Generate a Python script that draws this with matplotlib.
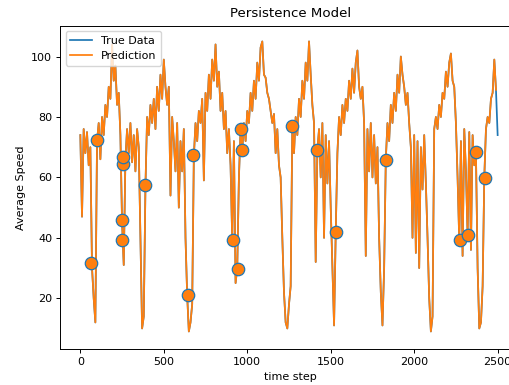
import numpy as np
import matplotlib
matplotlib.use('Agg')
import matplotlib.pyplot as plt

# the reference looks like a default 640x480 figure shrunk to ~80%
plt.rcParams['font.size'] = 8
plt.rcParams['axes.titlesize'] = 9.6
plt.rcParams['lines.linewidth'] = 1.25
plt.rcParams['axes.linewidth'] = 0.7
for ax_name in ['xtick', 'ytick']:
    plt.rcParams[ax_name + '.major.size'] = 2.8
    plt.rcParams[ax_name + '.major.width'] = 0.7
    plt.rcParams[ax_name + '.major.pad'] = 2.8

# average speed, one value every 10 time steps
step = 10
speed = [74, 47, 76, 68, 75, 64, 70, 30, 20, 12,
         72, 78, 66, 80, 74, 84, 80, 90, 86, 104,
         92, 97, 84, 88, 74, 45, 31, 66, 76, 68,
         78, 65, 74, 62, 76, 70, 40, 10, 14, 57,
         80, 74, 84, 78, 86, 76, 90, 82, 94, 86,
         99, 90, 84, 90, 54, 80, 72, 62, 78, 50,
         72, 62, 76, 40, 21, 9, 12, 18, 67, 78,
         72, 82, 78, 86, 59, 88, 82, 94, 86, 99,
         92, 104, 90, 95, 82, 88, 76, 82, 68, 76,
         64, 39, 72, 25, 30, 60, 76, 69, 78, 72,
         82, 78, 88, 82, 92, 86, 98, 92, 103, 105,
         94, 93, 88, 86, 82, 78, 81, 68, 76, 64,
         60, 40, 22, 12, 10, 18, 24, 77, 68, 80,
         74, 86, 80, 92, 86, 98, 92, 105, 94, 84,
         78, 32, 69, 76, 60, 78, 40, 74, 58, 72,
         50, 30, 11, 42, 68, 80, 74, 84, 78, 86,
         82, 92, 86, 96, 88, 98, 102, 90, 86, 90,
         78, 34, 76, 62, 78, 60, 74, 58, 70, 40,
         22, 11, 30, 66, 78, 72, 84, 78, 88, 82,
         94, 88, 100, 94, 90, 84, 88, 78, 70, 40,
         74, 35, 72, 30, 70, 56, 74, 58, 40, 20,
         9, 14, 76, 80, 76, 84, 80, 88, 86, 95,
         90, 98, 101, 92, 90, 78, 60, 39, 72, 34,
         76, 62, 41, 75, 36, 74, 64, 68, 30, 10,
         12, 24, 60, 76, 80, 78, 86, 88, 99, 89,
         74]

# persistence: prediction is the last seen value
pred = speed[:-1]

# flagged points (time step, speed)
flag_t = [64, 98, 250, 252, 254, 256, 387, 647, 677, 913, 947, 961, 967,
          1268, 1416, 1532, 1829, 2274, 2324, 2370, 2424]
flag_v = [31.5, 72.5, 45.8, 39.3, 64.3, 66.7, 57.5, 21.1, 67.4, 39.3, 29.7,
          76.1, 68.9, 76.9, 69.2, 41.9, 65.6, 39.3, 40.8, 68.3, 59.8]

t = np.arange(len(speed)) * step

fig = plt.figure(figsize=(5.1, 3.85), dpi=100)
ax = fig.add_axes([0.1176, 0.0935, 0.904, 0.8397])
ax.plot(t, speed, color='#1f77b4', label='True Data')
ax.plot(t[:-1], pred, color='#ff7f0e', label='Prediction')
ax.scatter(flag_t, flag_v, s=80, facecolor='#ff7f0e', edgecolor='#1f77b4',
           linewidth=0.9, zorder=3)
ax.set_xlim(-122, 2640)
ax.set_ylim(3.2, 110.2)
ax.set_xlabel('time step')
ax.set_ylabel('Average Speed')
ax.set_title('Persistence Model')
ax.legend(loc='upper left')
fig.savefig('out.png', dpi=100)
